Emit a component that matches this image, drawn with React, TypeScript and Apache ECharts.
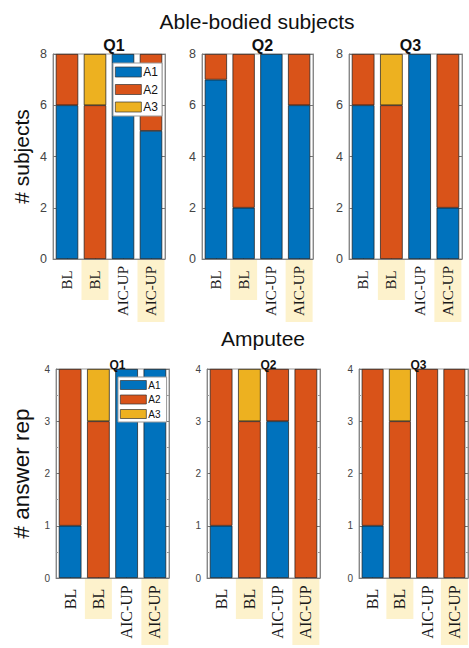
import React, { useEffect, useRef } from "react";
import * as echarts from "echarts";

// ---------- data ----------
const categories = ["BL", "BL", "AIC-UP", "AIC-UP"];
const highlighted = [false, true, false, true];
const questions = ["Q1", "Q2", "Q3"];
const answers = ["A1", "A2", "A3"];
const answerColors = ["#0072BD", "#D95319", "#EDB120"];

// Able-bodied subjects (# subjects)
const ableQ1A1 = [6, 0, 8, 5];
const ableQ1A2 = [2, 6, 0, 3];
const ableQ1A3 = [0, 2, 0, 0];
const ableQ2A1 = [7, 2, 8, 6];
const ableQ2A2 = [1, 6, 0, 2];
const ableQ2A3 = [0, 0, 0, 0];
const ableQ3A1 = [6, 0, 8, 2];
const ableQ3A2 = [2, 6, 0, 6];
const ableQ3A3 = [0, 2, 0, 0];

// Amputee (# answer rep)
const ampQ1A1 = [1, 0, 4, 4];
const ampQ1A2 = [3, 3, 0, 0];
const ampQ1A3 = [0, 1, 0, 0];
const ampQ2A1 = [1, 0, 3, 0];
const ampQ2A2 = [3, 3, 1, 4];
const ampQ2A3 = [0, 1, 0, 0];
const ampQ3A1 = [1, 0, 0, 0];
const ampQ3A2 = [3, 3, 4, 4];
const ampQ3A3 = [0, 1, 0, 0];

const ableTicksMax = 8;
const ableTickStep = 2;
const ampTicksMax = 4;
const ampTickStep = 1;

const ableData = [
  [ableQ1A1, ableQ1A2, ableQ1A3],
  [ableQ2A1, ableQ2A2, ableQ2A3],
  [ableQ3A1, ableQ3A2, ableQ3A3],
];
const ampData = [
  [ampQ1A1, ampQ1A2, ampQ1A3],
  [ampQ2A1, ampQ2A2, ampQ2A3],
  [ampQ3A1, ampQ3A2, ampQ3A3],
];

const SANS = "'Liberation Sans', Arial, sans-serif";
const SERIF = "'Liberation Serif', 'Times New Roman', serif";
const HL = "#fdf2cc";

function buildOption() {
  const topGrids = [
    { left: 53, width: 112 },
    { left: 202, width: 111 },
    { left: 349, width: 113 },
  ];
  const botGrids = [
    { left: 56, width: 113 },
    { left: 207, width: 113 },
    { left: 359, width: 109 },
  ];
  const rows = [
    {
      grids: topGrids, top: 54, height: 205, data: ableData, max: ableTicksMax, step: ableTickStep,
      yName: "# subjects", yNameSize: 21, yNameGap: 21, tickFont: 12.5, labelFont: 15,
      boxS: 40, boxL: 62, boxH: 27, qFont: 16, qTop: 32,
    },
    {
      grids: botGrids, top: 369, height: 217, data: ampData, max: ampTicksMax, step: ampTickStep,
      yName: "# answer rep", yNameSize: 22.5, yNameGap: 23, tickFont: 10, labelFont: 16,
      boxS: 40, boxL: 66, boxH: 27, qFont: 12, qTop: 354,
    },
  ];

  const grid: any[] = [];
  const xAxis: any[] = [];
  const yAxis: any[] = [];
  const series: any[] = [];
  const title: any[] = [
    {
      text: "Able-bodied subjects", left: 252, top: 6, textAlign: "center",
      textStyle: { fontSize: 21, fontWeight: "normal", fontFamily: SANS, color: "#111" },
    },
    {
      text: "Amputee", left: 258, top: 323, textAlign: "center",
      textStyle: { fontSize: 21, fontWeight: "normal", fontFamily: SANS, color: "#111" },
    },
  ];
  const rightAxes: any[] = [];

  let gi = 0;
  rows.forEach((row, r) => {
    row.grids.forEach((g, q) => {
      grid.push({
        left: g.left, top: row.top, width: g.width, height: row.height,
        show: true, borderColor: "#999", borderWidth: 1, backgroundColor: "transparent",
        containLabel: false,
      });
      title.push({
        text: questions[q], left: g.left + g.width / 2, top: row.qTop, textAlign: "center",
        textStyle: { fontSize: row.qFont, fontWeight: "bold", fontFamily: SANS, color: "#111" },
      });
      xAxis.push({
        type: "category", gridIndex: gi, data: categories,
        axisLine: { show: true, lineStyle: { color: "#888", width: 1 } },
        axisTick: { show: true, inside: true, alignWithLabel: true, length: 3, lineStyle: { color: "#777" } },
        splitLine: { show: false },
        axisLabel: {
          interval: 0, rotate: 90, margin: 1,
          formatter: (v: string, i: number) => {
            const len = v.length > 2 ? "L" : "S";
            return `{${highlighted[i] ? "h" : "p"}${len}|${v}}`;
          },
          rich: {
            hS: { backgroundColor: HL, width: row.boxS, height: row.boxH, lineHeight: row.boxH, align: "center", fontFamily: SERIF, fontSize: row.labelFont, color: "#1a1a1a" },
            hL: { backgroundColor: HL, width: row.boxL, height: row.boxH, lineHeight: row.boxH, align: "center", fontFamily: SERIF, fontSize: row.labelFont, color: "#1a1a1a" },
            pS: { width: row.boxS, height: row.boxH, lineHeight: row.boxH, align: "center", fontFamily: SERIF, fontSize: row.labelFont, color: "#1a1a1a" },
            pL: { width: row.boxL, height: row.boxH, lineHeight: row.boxH, align: "center", fontFamily: SERIF, fontSize: row.labelFont, color: "#1a1a1a" },
          },
        },
      });
      yAxis.push({
        type: "value", gridIndex: gi, min: 0, max: row.max, interval: row.step,
        name: q === 0 ? row.yName : "", nameLocation: "middle", nameGap: row.yNameGap,
        nameTextStyle: { fontSize: row.yNameSize, fontFamily: SANS, color: "#111" },
        axisLine: { show: true, lineStyle: { color: "#888", width: 1 } },
        axisTick: { show: true, inside: true, length: 3, lineStyle: { color: "#777" } },
        minorTick: { show: r === 1, splitNumber: 2, length: 2, lineStyle: { color: "#999" } },
        splitLine: { show: false },
        axisLabel: { fontSize: row.tickFont, fontFamily: SANS, color: "#444", margin: 6 },
      });
      rightAxes.push({
        type: "value", gridIndex: gi, min: 0, max: row.max, interval: row.step, position: "right",
        axisLine: { show: true, lineStyle: { color: "#888", width: 1 } },
        axisTick: { show: true, inside: true, length: 3, lineStyle: { color: "#777" } },
        minorTick: { show: r === 1, splitNumber: 2, length: 2, lineStyle: { color: "#999" } },
        splitLine: { show: false },
        axisLabel: { show: false },
      });
      row.data[q].forEach((vals, a) => {
        series.push({
          type: "bar", name: answers[a], xAxisIndex: gi, yAxisIndex: gi,
          stack: "s" + gi, barCategoryGap: "20%",
          data: vals.map((v) => (v === 0 ? null : v)),
          itemStyle: { color: answerColors[a], borderColor: "#1a1a1a", borderWidth: 0.7 },
          emphasis: { disabled: true },
        });
      });
      gi++;
    });
  });

  const legendBase = {
    orient: "vertical", icon: "rect", data: answers, backgroundColor: "#fff",
    borderColor: "#999", borderWidth: 1, itemWidth: 26, selectedMode: false,
    itemStyle: { borderColor: "#333", borderWidth: 0.7 },
  };

  return {
    animation: false,
    color: answerColors,
    title,
    grid,
    xAxis,
    yAxis: [...yAxis, ...rightAxes],
    legend: [
      {
        ...legendBase, left: 113, top: 63, itemHeight: 10, itemGap: 5.5, padding: [3, 4, 3, 2],
        textStyle: { fontSize: 12, fontFamily: SANS, color: "#111", padding: [0, 0, 0, -3] },
      },
      {
        ...legendBase, left: 118, top: 377, itemHeight: 9, itemGap: 4.5, padding: [3, 6, 3, 2],
        textStyle: { fontSize: 10, fontFamily: SANS, color: "#111", padding: [0, 0, 0, -3] },
      },
    ],
    series,
  };
}

export default function App() {
  const ref = useRef<HTMLDivElement>(null);
  useEffect(() => {
    if (!ref.current) return;
    const chart = echarts.init(ref.current, undefined, { renderer: "svg" });
    chart.setOption(buildOption() as any);
    return () => chart.dispose();
  }, []);
  return (
    <div
      ref={ref}
      style={{ position: "fixed", left: 0, top: 0, width: 469, height: 648, background: "#fff" }}
    />
  );
}
